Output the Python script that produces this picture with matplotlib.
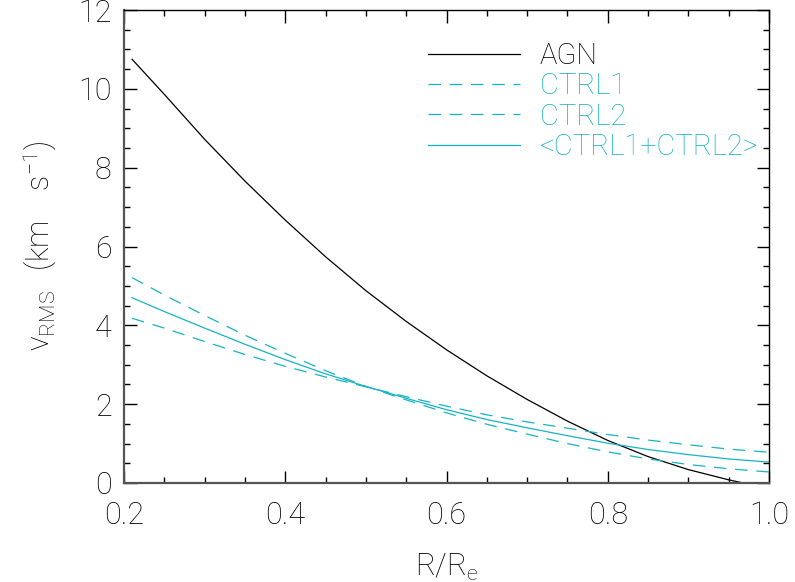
import matplotlib
matplotlib.use('Agg')
import matplotlib.pyplot as plt
from matplotlib.ticker import MultipleLocator

plt.rcParams['font.family'] = ['Roboto', 'DejaVu Sans']
plt.rcParams['font.weight'] = 'light'
plt.rcParams['axes.labelweight'] = 'light'
plt.rcParams['mathtext.fontset'] = 'custom'
plt.rcParams['mathtext.rm'] = 'Roboto:light'
plt.rcParams['mathtext.default'] = 'rm'

# values, R/Re grid
r = [0.21, 0.25, 0.30, 0.35, 0.40, 0.45, 0.50, 0.55, 0.60,
     0.65, 0.70, 0.75, 0.80, 0.85, 0.90, 0.95, 1.00]
agn = [10.75, 9.86, 8.72, 7.66, 6.67, 5.74, 4.88, 4.10, 3.38,
       2.72, 2.12, 1.57, 1.08, 0.67, 0.34, 0.08, -0.14]
ctrl1 = [5.21, 4.77, 4.25, 3.75, 3.29, 2.85, 2.45, 2.11, 1.78,
         1.49, 1.24, 1.00, 0.79, 0.61, 0.47, 0.36, 0.28]
ctrl2 = [4.18, 3.93, 3.59, 3.26, 2.96, 2.69, 2.44, 2.19, 1.95,
         1.73, 1.55, 1.39, 1.23, 1.09, 0.97, 0.86, 0.78]
ctrl_mean = [4.70, 4.35, 3.93, 3.52, 3.13, 2.77, 2.45, 2.15, 1.86,
             1.61, 1.40, 1.20, 1.01, 0.85, 0.72, 0.61, 0.53]

cyan = '#17b3c4'

fig = plt.figure(figsize=(7.95, 5.82), dpi=100)
ax = fig.add_axes([124/795, 1-483/582, (769-124)/795, (483-10)/582])

ax.plot(r, agn, color='black', lw=0.9, label='AGN')
ax.plot(r, ctrl1, color=cyan, lw=0.9, ls=(0, (10, 7)), label='CTRL1')
ax.plot(r, ctrl2, color=cyan, lw=0.9, ls=(0, (10, 7)), label='CTRL2')
ax.plot(r, ctrl_mean, color=cyan, lw=0.9, label='<CTRL1+CTRL2>')

ax.set_xlim(0.2, 1.0)
ax.set_ylim(0, 12)
ax.set_xticks([0.2, 0.4, 0.6, 0.8, 1.0])
ax.set_xticklabels(['0.2', '0.4', '0.6', '0.8', '1.0'])
ax.xaxis.set_minor_locator(MultipleLocator(0.05))
ax.yaxis.set_major_locator(MultipleLocator(2))
ax.yaxis.set_minor_locator(MultipleLocator(0.5))

ax.tick_params(which='both', direction='in', top=True, right=True, labelsize=22, width=1)
ax.tick_params(which='major', length=9)
ax.tick_params(which='minor', length=4.5)
ax.tick_params(axis='x', pad=13)
ax.tick_params(axis='y', pad=9)

for s in ['left', 'bottom']:
    ax.spines[s].set_color('#555555')
    ax.spines[s].set_linewidth(1.6)
for s in ['top', 'right']:
    ax.spines[s].set_linewidth(1.0)

ax.set_xlabel('R/R$_e$', fontsize=22, labelpad=16)
ax.set_ylabel(r'v$_{RMS}$$\ \ $(km$\ \ \ $s$^{-1}$)', fontsize=22, labelpad=14)

leg = ax.legend(loc='upper left', bbox_to_anchor=((428-124)/645, (483-42)/473),
                frameon=False, fontsize=21, handlelength=3.15, handletextpad=0.68,
                labelspacing=0.08, borderaxespad=0, borderpad=0)
for t, c in zip(leg.get_texts(), ['black', cyan, cyan, cyan]):
    t.set_color(c)

fig.savefig('out.png', dpi=100)
